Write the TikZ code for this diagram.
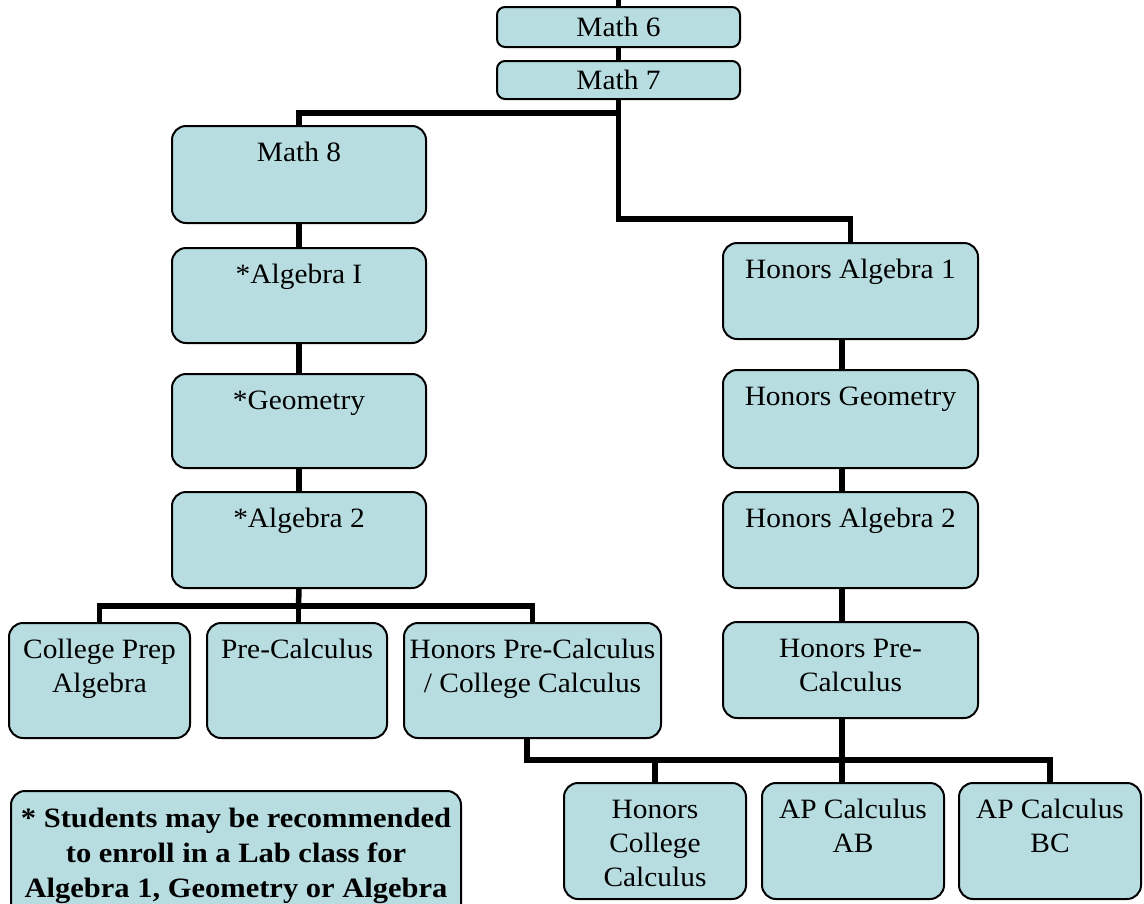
\documentclass[tikz,border=0pt]{standalone}
\usepackage{fontspec}
\setmainfont{Liberation Serif}[FakeStretch=1.05]
\newfontfamily\notefont{Liberation Serif}[FakeStretch=1.09]
\usetikzlibrary{backgrounds}
\definecolor{boxfill}{RGB}{184,221,225}
\newcommand{\ct}[3]{\parbox[c][#2][t]{#1}{\centering\rule{0pt}{35pt}#3}}
\tikzset{
  course/.style={draw=black, line width=2pt, fill=boxfill, rounded corners=14pt,
    inner sep=0pt, align=center, font=\fontsize{28}{34}\selectfont},
  smallcourse/.style={course, rounded corners=8pt, minimum width=243pt},
  conn/.style={draw=black, line width=5.5pt}
}
\begin{document}
\begin{tikzpicture}[x=1pt,y=-1pt]
\useasboundingbox (0,0) rectangle (1144,903);
\clip (0,0) rectangle (1144,903);

\node[smallcourse, minimum height=40pt] (m6) at (618.5,27) {Math 6};
\node[smallcourse, minimum height=38pt] (m7) at (618.5,80) {Math 7};

\node[course] (m8) at (299,174.5) {\ct{254pt}{97pt}{Math 8}};
\node[course] (a1) at (299,295.5) {\ct{254pt}{95pt}{*Algebra I}};
\node[course] (geo) at (299,421) {\ct{254pt}{94pt}{*Geometry}};
\node[course] (a2) at (299,540) {\ct{254pt}{96pt}{*Algebra 2}};

\node[course] (cpa) at (99.5,680.5) {\ct{181pt}{115pt}{College Prep\\Algebra}};
\node[course] (pc) at (297,680.5) {\ct{180pt}{115pt}{Pre-Calculus}};
\node[course] (hpcc) at (532.5,680.5) {\ct{257pt}{115pt}{Honors Pre-Calculus\\/ College Calculus}};

\node[course] (ha1) at (850.5,291) {\ct{255pt}{96pt}{Honors Algebra 1}};
\node[course] (hg) at (850.5,419) {\ct{255pt}{98pt}{Honors Geometry}};
\node[course] (ha2) at (850.5,540) {\ct{255pt}{96pt}{Honors Algebra 2}};
\node[course] (hpc) at (850.5,670) {\ct{255pt}{96pt}{Honors Pre-\\Calculus}};

\node[course] (hcc) at (655,841) {\ct{182pt}{116pt}{Honors\\College\\Calculus}};
\node[course] (ab) at (853,841) {\ct{182pt}{116pt}{AP Calculus\\AB}};
\node[course] (bc) at (1050,841) {\ct{182pt}{116pt}{AP Calculus\\BC}};

\node[course, font=\notefont\bfseries\fontsize{28}{35}\selectfont] (note) at (236,856)
  {\parbox[c][130pt][t]{450pt}{\centering\rule{0pt}{36pt}* Students may be recommended\\to enroll in a Lab class for\\Algebra 1, Geometry or Algebra}};

\begin{scope}[on background layer]
\coordinate (top) at (618.5,0);
\coordinate (j1) at (618.5,113);
\coordinate (j2) at (618.5,219);
\coordinate (j3) at (298.5,606);
\coordinate (j4) at (842,760);
\draw[conn] (top) -- (m6.north);
\draw[conn] (m6.south) -- (m7.north);
\draw[conn] (m7.south) -- (j1) -| (m8.north);
\draw[conn] (j1) -- (j2) -| (ha1.north);
\draw[conn] (m8.south) -- (a1.north);
\draw[conn] (a1.south) -- (geo.north);
\draw[conn] (geo.south) -- (a2.north);
\draw[conn] (a2.south) -- (j3);
\draw[conn] (cpa.north) |- (j3) -| (hpcc.north);
\draw[conn] (j3) -- (j3 |- pc.north);
\draw[conn] ([xshift=-8.5pt]ha1.south) -- ([xshift=-8.5pt]hg.north);
\draw[conn] ([xshift=-8.5pt]hg.south) -- ([xshift=-8.5pt]ha2.north);
\draw[conn] ([xshift=-8.5pt]ha2.south) -- ([xshift=-8.5pt]hpc.north);
\draw[conn] ([xshift=-5.5pt]hpcc.south) |- (j4) -| (bc.north);
\draw[conn] ([xshift=-8.5pt]hpc.south) -- (j4) -- (j4 |- ab.north);
\draw[conn] (hcc.north) -- (hcc.north |- j4);
\end{scope}
\end{tikzpicture}
\end{document}
